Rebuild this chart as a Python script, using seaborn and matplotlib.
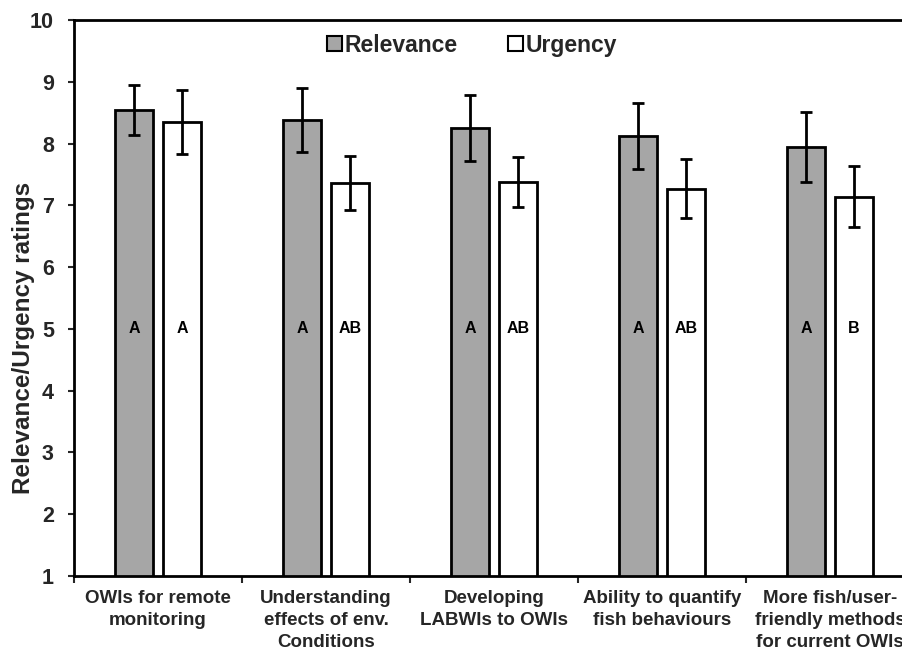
import matplotlib
matplotlib.use("Agg")
import matplotlib.pyplot as plt
import seaborn as sns
import pandas as pd
from matplotlib.patches import Patch
from matplotlib.ticker import FixedLocator

categories = [
    "OWIs for remote\nmonitoring",
    "Understanding\neffects of env.\nConditions",
    "Developing\nLABWIs to OWIs",
    "Ability to quantify\nfish behaviours",
    "More fish/user-\nfriendly methods\nfor current OWIs",
]
series = ["Relevance", "Urgency"]
relevance = [8.54, 8.38, 8.25, 8.12, 7.94]
urgency = [8.35, 7.36, 7.38, 7.27, 7.14]
relevance_err = [0.40, 0.52, 0.53, 0.53, 0.57]
urgency_err = [0.52, 0.44, 0.40, 0.48, 0.49]
relevance_letters = ["A", "A", "A", "A", "A"]
urgency_letters = ["A", "AB", "AB", "AB", "B"]

df = pd.DataFrame({
    "category": categories * 2,
    "series": [series[0]] * 5 + [series[1]] * 5,
    "value": relevance + urgency,
})

sns.set_theme(style="white")
plt.rcParams["font.family"] = ["Liberation Sans", "DejaVu Sans"]
plt.rcParams["font.weight"] = "bold"

fig = plt.figure(figsize=(9.03, 6.51), dpi=100)
ax = fig.add_axes([74 / 903, 75 / 651, 840 / 903, 556 / 651])

colors = {"Relevance": "#a6a6a6", "Urgency": "#ffffff"}
sns.barplot(data=df, x="category", y="value", hue="series", palette=colors,
            order=categories, hue_order=series, width=0.57, gap=0.2,
            edgecolor="black", linewidth=2, errorbar=None, legend=False, ax=ax)

errs = [relevance_err, urgency_err]
letters = [relevance_letters, urgency_letters]
bar_groups = list(ax.containers)
for k, cont in enumerate(bar_groups):
    for i, bar in enumerate(cont):
        xc = bar.get_x() + bar.get_width() / 2
        ax.errorbar(xc, bar.get_height(), yerr=errs[k][i], color="black",
                    elinewidth=2, capsize=4.5, capthick=2, zorder=5)
        ax.text(xc, 5, letters[k][i], ha="center", va="center",
                fontsize=11.5, fontweight="bold", color="black")

ax.set_ylim(1, 10)
ax.set_xlim(-0.5, 4.5)
ax.set_yticks(range(1, 11))
ax.set_xticks(range(len(categories)))
ax.set_xticklabels(categories, fontweight="bold", linespacing=1.38)
ax.set_xlabel("")
ax.set_ylabel("Relevance/Urgency ratings", fontsize=17.5, fontweight="bold")
ax.yaxis.set_label_coords(-0.047, 0.428)
ax.tick_params(axis="y", labelsize=15.5, length=4.5, width=1.5, direction="out", left=True, pad=10)
ax.tick_params(axis="x", which="major", labelsize=13.5, length=0, pad=10)
ax.xaxis.set_minor_locator(FixedLocator([-0.5, 0.5, 1.5, 2.5, 3.5]))
ax.tick_params(axis="x", which="minor", length=5, width=1.5, direction="out", bottom=True)
for lbl in ax.get_yticklabels():
    lbl.set_fontweight("bold")
for s in ["left", "bottom", "top"]:
    ax.spines[s].set_linewidth(2)
    ax.spines[s].set_color("black")
ax.spines["right"].set_visible(False)

handles = [Patch(facecolor=colors[s], edgecolor="black", linewidth=1.5, label=s) for s in series]
ax.legend(handles=handles, loc="center", bbox_to_anchor=(0.474, 0.955), ncol=2,
          frameon=False, handlelength=0.65, handleheight=0.65, handletextpad=0.12,
          columnspacing=2.2, prop={"size": 16.5, "weight": "bold"})

fig.savefig("out.png", dpi=100)
